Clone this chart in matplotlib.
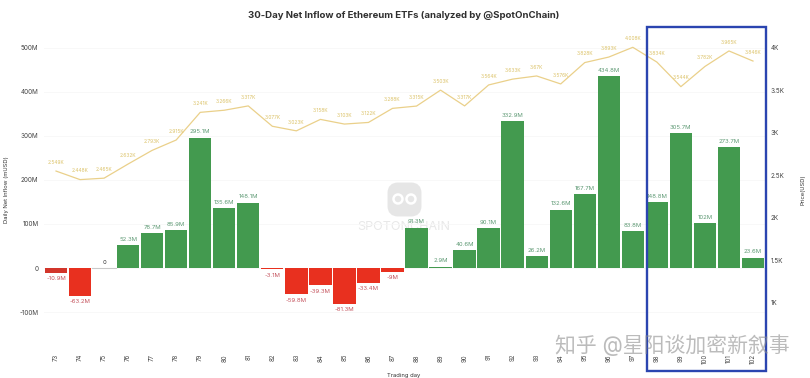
import matplotlib
matplotlib.use("Agg")
import matplotlib.pyplot as plt
from matplotlib.patches import Rectangle, FancyBboxPatch, Circle

days = list(range(73, 103))
inflow = [-10.9, -63.2, 0, 52.3, 78.7, 85.9, 295.1, 135.6, 148.1, -3.1,
          -59.8, -39.3, -81.3, -33.4, -9, 91.3, 2.9, 40.6, 90.1, 332.9,
          26.2, 132.6, 167.7, 434.8, 83.8, 148.8, 305.7, 102, 273.7, 23.6]
inflow_labels = ["-10.9M", "-63.2M", "0", "52.3M", "78.7M", "85.9M", "295.1M", "135.6M", "148.1M", "-3.1M",
                 "-59.8M", "-39.3M", "-81.3M", "-33.4M", "-9M", "91.3M", "2.9M", "40.6M", "90.1M", "332.9M",
                 "26.2M", "132.6M", "167.7M", "434.8M", "83.8M", "148.8M", "305.7M", "102M", "273.7M", "23.6M"]
price = [2549, 2448, 2465, 2632, 2793, 2915, 3241, 3266, 3317, 3077,
         3023, 3158, 3103, 3122, 3288, 3315, 3503, 3317, 3564, 3633,
         3670, 3576, 3828, 3893, 4008, 3834, 3544, 3782, 3965, 3846]
price_labels = ["2.549K", "2.448K", "2.465K", "2.632K", "2.793K", "2.915K", "3.241K", "3.266K", "3.317K", "3.077K",
                "3.023K", "3.158K", "3.103K", "3.122K", "3.288K", "3.315K", "3.503K", "3.317K", "3.564K", "3.633K",
                "3.67K", "3.576K", "3.828K", "3.893K", "4.008K", "3.834K", "3.544K", "3.782K", "3.965K", "3.846K"]
left_ticks = [-100, 0, 100, 200, 300, 400, 500]
left_labels = ["-100M", "0", "100M", "200M", "300M", "400M", "500M"]
right_ticks = [1000, 1500, 2000, 2500, 3000, 3500, 4000]
right_labels = ["1K", "1.5K", "2K", "2.5K", "3K", "3.5K", "4K"]

W, H = 810, 378
plt.rcParams["font.family"] = ["Inter", "Noto Sans CJK SC", "DejaVu Sans"]

fig = plt.figure(figsize=(W / 100, H / 100), dpi=100)
ax = fig.add_axes([44 / W, 1 - 345 / H, 721 / W, 315 / H])
ax.set_xlim(-0.5, 29.5)
ax.set_ylim(-174.6, 540)
ax.set_zorder(2)
ax.patch.set_visible(False)

x = list(range(len(days)))
colors = ["#439a4f" if v >= 0 else "#e8301f" for v in inflow]
colors[0] = "#d2352b"
ax.bar(x, inflow, width=0.93, color=colors, zorder=3)
ax.plot([1.5, 2.5], [0, 0], color="#c9c9c9", lw=0.8, zorder=3)
for i, v in enumerate(inflow):
    if v >= 0:
        c = "#333333" if v == 0 else "#5f9a75"
        ax.annotate(inflow_labels[i], (i, v), xytext=(0, 2.5), textcoords="offset points",
                    ha="center", va="bottom", fontsize=4.3, color=c, zorder=5)
    else:
        ax.annotate(inflow_labels[i], (i, v), xytext=(0, -2.5), textcoords="offset points",
                    ha="center", va="top", fontsize=4.3, color="#c4525c", zorder=5)

ax.set_yticks(left_ticks)
ax.set_yticklabels(left_labels, fontsize=4.6, color="#444444")
ax.set_xticks(x)
ax.set_xticklabels(days, rotation=90, fontsize=4.4, color="#444444")
ax.tick_params(axis="both", length=0)
ax.tick_params(axis="x", pad=6.5)
ax.tick_params(axis="y", pad=4)
ax.grid(axis="y", color="#f7f7f7", lw=0.6, zorder=0)
ax.set_axisbelow(True)
for s in ax.spines.values():
    s.set_visible(False)

ax2 = ax.twinx()
ax2.set_xlim(-0.5, 29.5)
ax2.set_ylim(498, 4212)
ax2.set_zorder(3)
ax2.patch.set_visible(False)
ax2.plot(x, price, color="#ead08a", lw=0.9, zorder=4)
for i, p in enumerate(price):
    ax2.annotate(price_labels[i], (i, p), xytext=(0, 4.5), textcoords="offset points",
                 ha="center", va="bottom", fontsize=3.5, color="#dcc36a", zorder=5)
ax2.set_yticks(right_ticks)
ax2.set_yticklabels(right_labels, fontsize=4.6, color="#444444")
ax2.tick_params(axis="y", length=0, pad=4)
for s in ax2.spines.values():
    s.set_visible(False)

fig.text(404 / W, 1 - 15 / H, "30-Day Net Inflow of Ethereum ETFs (analyzed by @SpotOnChain)",
         ha="center", va="center", fontsize=6.9, fontweight="bold", color="#2f2f2f")
fig.text(7 / W, 1 - 190 / H, "Daily Net Inflow (mUSD)", rotation=90, ha="center", va="center",
         fontsize=4.2, color="#333333")
fig.text(803 / W, 1 - 190 / H, "Price(USD)", rotation=90, ha="center", va="center",
         fontsize=4.2, color="#333333")
fig.text(404 / W, 1 - 375.5 / H, "Trading day", ha="center", va="center", fontsize=4.2, color="#333333")

# spotonchain watermark
fig.add_artist(FancyBboxPatch((391, H - 213), 27, 27, boxstyle="round,pad=0,rounding_size=7",
                              transform=None, fc="#e6e6e6", ec="#e6e6e6", lw=5, zorder=1))
for cx in (398, 411):
    fig.add_artist(Circle((cx, H - 199), 4.5, transform=None, fc="#e6e6e6", ec="white", lw=1.8, zorder=1))
fig.text(404 / W, 1 - 227 / H, "SPOTONCHAIN", ha="center", va="center", fontsize=9,
         color="#e8e8e8", zorder=1)

# highlight box
fig.add_artist(Rectangle((647 / W, 1 - 371 / H), 118.5 / W, 344 / H, transform=fig.transFigure,
                         fc="none", ec="#2b45b0", lw=1.7, zorder=10))

fig.text(672 / W, 1 - 345 / H, "知乎 @星阳谈加密新叙事", ha="center", va="center", fontsize=15,
         color="#8f8f8f", alpha=0.6, zorder=11)

fig.savefig("out.png", dpi=100)
